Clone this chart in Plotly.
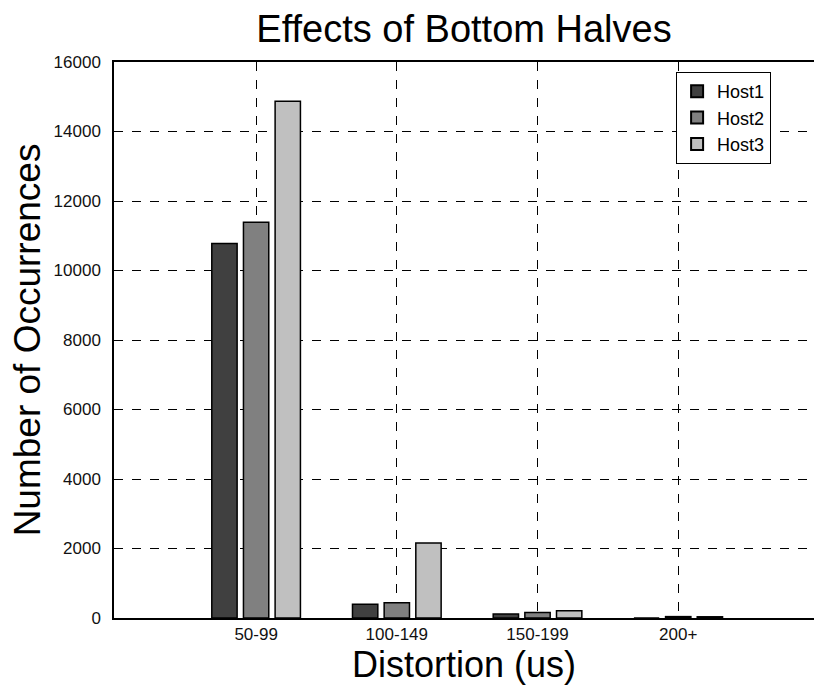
import plotly.graph_objects as go

categories = ["50-99", "100-149", "150-199", "200+"]
host1 = [10780, 395, 115, 0]
host2 = [11390, 440, 160, 40]
host3 = [14870, 2160, 210, 35]
series_names = ["Host1", "Host2", "Host3"]
colors = ["#404040", "#808080", "#c0c0c0"]
y_ticks = [0, 2000, 4000, 6000, 8000, 10000, 12000, 14000, 16000]

xpos = list(range(len(categories)))
fig = go.Figure()
for name, vals, col in zip(series_names, [host1, host2, host3], colors):
    fig.add_trace(go.Bar(
        x=xpos, y=vals, name=name,
        marker=dict(color=col, line=dict(color="black", width=1.5)),
    ))

tickfont = dict(family="Liberation Sans, Arial, sans-serif", size=17, color="#111111")
fig.update_layout(
    width=814, height=692,
    margin=dict(l=114, r=0, t=62, b=74),
    paper_bgcolor="white", plot_bgcolor="white",
    barmode="group", bargap=0.325, bargroupgap=0.2,
    font=dict(family="Liberation Sans, Arial, sans-serif", color="black"),
    title=dict(text="Effects of Bottom Halves", x=(114 + 350) / 814, xanchor="center",
               y=1 - 29 / 692, yanchor="middle", font=dict(size=38, color="black")),
    showlegend=True,
    legend=dict(x=0.803, y=0.982, xanchor="left", yanchor="top",
                bordercolor="black", borderwidth=1, bgcolor="white",
                font=dict(family="Liberation Sans, Arial, sans-serif", size=18),
                tracegroupgap=0, itemsizing="constant"),
)
fig.update_xaxes(
    range=[-1.01, 3.965],
    tickmode="array", tickvals=xpos, ticktext=categories,
    tickfont=tickfont, ticklabelstandoff=0,
    showgrid=True, gridcolor="black", griddash="dash", gridwidth=1,
    showline=True, linecolor="black", linewidth=1.5, mirror=True,
    ticks="", zeroline=False,
    title=dict(text="Distortion (us)", font=dict(size=36), standoff=0),
)
fig.update_yaxes(
    range=[0, 16000],
    tickmode="array", tickvals=y_ticks, ticktext=[str(v) for v in y_ticks],
    tickfont=tickfont, ticklabelstandoff=8,
    showgrid=True, gridcolor="black", griddash="dash", gridwidth=1,
    showline=True, linecolor="black", linewidth=1.5,
    ticks="", zeroline=False,
    title=dict(text="Number of Occurrences", font=dict(size=37), standoff=2),
)

fig.write_html("out.html")
